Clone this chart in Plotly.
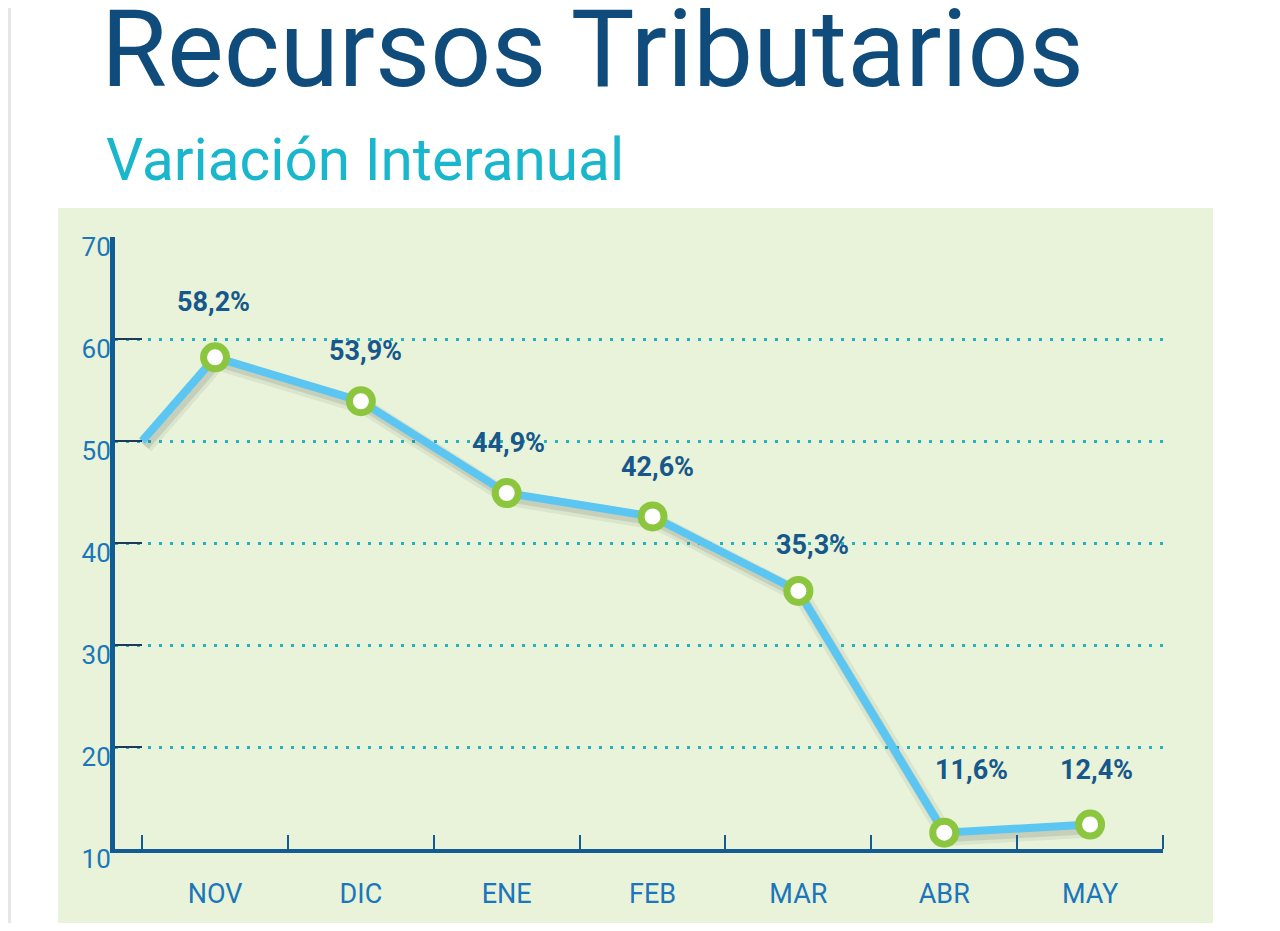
import plotly.graph_objects as go

# ---- data ----
months = ["NOV", "DIC", "ENE", "FEB", "MAR", "ABR", "MAY"]
variation = [58.2, 53.9, 44.9, 42.6, 35.3, 11.6, 12.4]
lead_in_value = 50.0          # value where the line enters at the left edge (from the previous month)
y_ticks = [10, 20, 30, 40, 50, 60, 70]
title_text = "Recursos Tributarios"
subtitle_text = "Variación Interanual"

# ---- style / layout helpers (target pixel geometry, screen coords) ----
OFF = 8                                  # default page margin of the html body
W, H = 1280 - 2 * OFF, 931 - 2 * OFF
PL, PR, PT, PB = 115, 1163, 237, 849     # plot area in screen px
def px_x(p):
    return (p - PL) / (PR - PL)
def px_y(p):
    return (PB - p) / (PB - PT)

idx = list(range(len(months)))
line_x = [idx[0] - 0.5] + idx
line_y = [lead_in_value] + variation
x_range = [-0.686, 6.5]
y_range = [10, 70]
upp_x = (x_range[1] - x_range[0]) / (PR - PL)
upp_y = (y_range[1] - y_range[0]) / (PB - PT)

LINE_BLUE = "#5cc6f2"
GREEN = "#8cc63f"
AXIS_BLUE = "#135c93"
LABEL_BLUE = "#17588c"
TICK_BLUE = "#1b76bb"

fig = go.Figure()

# invisible carrier trace so the base (visible) axes are drawn
fig.add_trace(go.Scatter(
    x=line_x, y=line_y, mode="lines", line=dict(width=0), opacity=0,
    hoverinfo="skip", showlegend=False,
))
# soft shadow (same data drawn on offset overlay axes x2/y2)
fig.add_trace(go.Scatter(
    x=line_x, y=line_y, mode="lines",
    line=dict(color="rgba(60,60,60,0.08)", width=16),
    xaxis="x2", yaxis="y2", hoverinfo="skip", showlegend=False,
))
fig.add_trace(go.Scatter(
    x=line_x, y=line_y, mode="lines",
    line=dict(color="rgba(60,60,60,0.13)", width=9),
    xaxis="x2", yaxis="y2", hoverinfo="skip", showlegend=False,
))
# main line (on overlay x3/y3 which matches the visible axes, drawn above the shadow)
fig.add_trace(go.Scatter(
    x=line_x, y=line_y, mode="lines",
    line=dict(color=LINE_BLUE, width=8),
    xaxis="x3", yaxis="y3", hoverinfo="skip", showlegend=False,
))
# markers
fig.add_trace(go.Scatter(
    x=idx, y=variation, mode="markers",
    marker=dict(size=23, color="white", line=dict(color=GREEN, width=7)),
    xaxis="x3", yaxis="y3", showlegend=False,
))

label_xshift = [-2, 5, 2, 5, 14, 27, 6]
label_yshift = [55, 50, 50, 49, 46, 63, 55]
for i, v in enumerate(variation):
    fig.add_annotation(
        x=idx[i], y=v, text=f"{v:.1f}".replace(".", ",") + "%",
        showarrow=False, xshift=label_xshift[i], yshift=label_yshift[i],
        font=dict(family="Roboto", size=27, color=LABEL_BLUE, weight="bold"),
    )

# titles
fig.add_annotation(
    xref="paper", yref="paper", x=px_x(99), y=px_y(49), xanchor="left", yanchor="middle",
    text=title_text, showarrow=False,
    font=dict(family="Roboto", size=107, color="#0f4b7b"),
)
fig.add_annotation(
    xref="paper", yref="paper", x=px_x(104), y=px_y(160), xanchor="left", yanchor="middle",
    text=subtitle_text, showarrow=False,
    font=dict(family="Roboto", size=58.5, color="#19b6cc"),
)

shapes = [
    dict(type="rect", xref="paper", yref="paper", layer="below",
         x0=px_x(58), x1=px_x(1213), y0=px_y(940), y1=px_y(208),
         fillcolor="#e8f3d9", line=dict(width=0)),
    dict(type="rect", xref="paper", yref="paper", layer="below",
         x0=px_x(OFF), x1=px_x(11), y0=px_y(940), y1=px_y(0),
         fillcolor="#e6e6e6", line=dict(width=0)),
]

fig.update_layout(
    width=W, height=H,
    margin=dict(l=PL - OFF, r=(W + OFF) - PR, t=PT - OFF, b=(H + OFF) - PB, pad=0),
    paper_bgcolor="white", plot_bgcolor="rgba(0,0,0,0)",
    shapes=shapes, showlegend=False,
    xaxis=dict(
        range=x_range, tickmode="array", tickvals=idx, ticktext=months,
        ticks="", showgrid=False, zeroline=False,
        showline=True, linewidth=4, linecolor=AXIS_BLUE,
        tickfont=dict(family="Roboto", size=27, color=TICK_BLUE),
        ticklabelstandoff=18,
        minor=dict(tickmode="array", tickvals=[i - 0.5 for i in range(len(months) + 1)],
                   ticks="inside", ticklen=14, tickwidth=2, tickcolor=AXIS_BLUE, showgrid=False),
        fixedrange=True,
    ),
    yaxis=dict(
        range=y_range, tickmode="array", tickvals=y_ticks,
        ticks="inside", ticklen=27, tickwidth=2, tickcolor="#1c3a5a",
        showgrid=True, gridcolor="#23b2c2", gridwidth=3, griddash="3px,8px",
        zeroline=False, showline=True, linewidth=5, linecolor=AXIS_BLUE,
        tickfont=dict(family="Roboto", size=26, color=TICK_BLUE),
        ticklabelshift=10, ticklabelstandoff=-6,
        fixedrange=True,
    ),
    xaxis2=dict(range=[x_range[0] - 3 * upp_x, x_range[1] - 3 * upp_x],
                overlaying="x", visible=False, fixedrange=True),
    yaxis2=dict(range=[y_range[0] + 5 * upp_y, y_range[1] + 5 * upp_y],
                overlaying="y", visible=False, fixedrange=True),
    xaxis3=dict(range=x_range, overlaying="x", visible=False, fixedrange=True),
    yaxis3=dict(range=y_range, overlaying="y", visible=False, fixedrange=True),
)

fig.write_html("out.html")
